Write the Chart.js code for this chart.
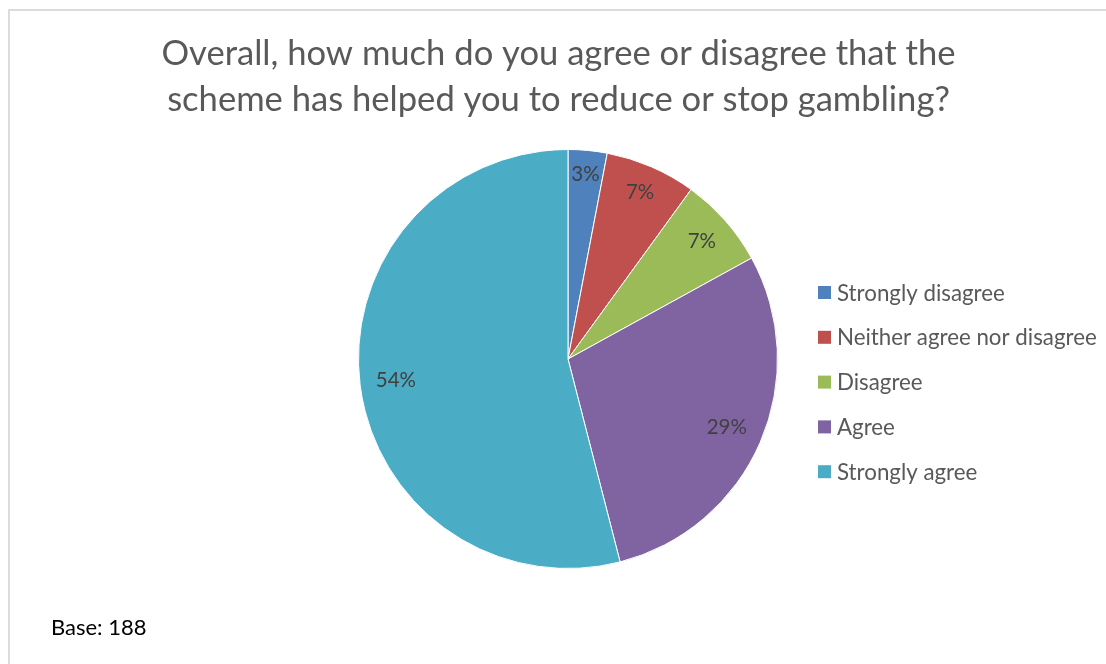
<!DOCTYPE html>
<html>
<head>
<meta charset="utf-8">
<title>Scheme impact on gambling</title>
<script src="https://cdn.jsdelivr.net/npm/chart.js@4/dist/chart.umd.min.js"></script>
<style>
    html, body { margin: 0; padding: 0; background: #fff; overflow: hidden; }
    #frame {
        position: absolute; left: 8px; top: 9px;
        width: 1110px; height: 680px;
        border: 2px solid #dcdcdc; box-sizing: border-box;
    }
    #wrap { position: absolute; left: 0; top: 0; width: 1106px; height: 664px; }
</style>
</head>
<body>
<div id="frame"></div>
<div id="wrap"><canvas id="pie"></canvas></div>
<script>
    'use strict';

    // ── Données ───────────────────────────────────────────────────
    var categories  = ['Strongly disagree', 'Neither agree nor disagree', 'Disagree', 'Agree', 'Strongly agree'];
    var shares      = [3, 7, 7, 29, 54];   // % des répondants
    var sliceColors = ['#4F81BD', '#C0504D', '#9BBB59', '#8064A2', '#4BACC6'];
    var titleLines  = [
        'Overall, how much do you agree or disagree that the',
        'scheme has helped you to reduce or stop gambling?'
    ];
    var baseNote    = 'Base: 188';

    var FONT = 'Lato, "Noto Sans", sans-serif';

    // ── Étiquettes % à l'intérieur des parts ──────────────────────
    // Le libellé glisse le long de l'angle médian jusqu'à ce que son
    // coin le plus éloigné touche un cercle un peu en retrait du bord.
    var sliceLabels = {
        id: 'sliceLabels',
        afterDatasetsDraw: function (chart, args, opts) {
            var ctx  = chart.ctx;
            var arcs = chart.getDatasetMeta(0).data;
            ctx.save();
            ctx.font         = opts.size + 'px ' + FONT;
            ctx.fillStyle    = opts.color;
            ctx.textAlign    = 'center';
            ctx.textBaseline = 'middle';
            arcs.forEach(function (arc, i) {
                var p   = arc.getProps(['x', 'y', 'startAngle', 'endAngle', 'outerRadius'], true);
                var mid = (p.startAngle + p.endAngle) / 2;
                var dx  = Math.cos(mid), dy = Math.sin(mid);
                var txt = shares[i] + '%';
                var hw  = ctx.measureText(txt).width / 2;
                var hh  = opts.size * 0.36;
                var lim = p.outerRadius - opts.inset;
                var t   = lim;
                while (t > 0) {
                    var cx = t * dx + (dx >= 0 ? hw : -hw);
                    var cy = t * dy + (dy >= 0 ? hh : -hh);
                    if (Math.sqrt(cx * cx + cy * cy) <= lim) break;
                    t -= 0.5;
                }
                ctx.fillText(txt, p.x + t * dx, p.y + t * dy);
            });
            ctx.restore();
        }
    };

    // ── Titre, légende et effectif ────────────────────────────────
    var decor = {
        id: 'decor',
        afterDraw: function (chart, args, opts) {
            var ctx = chart.ctx;
            ctx.save();

            // titre sur deux lignes
            ctx.font         = opts.titleSize + 'px ' + FONT;
            ctx.fillStyle    = '#595959';
            ctx.textAlign    = 'center';
            ctx.textBaseline = 'alphabetic';
            titleLines.forEach(function (line, i) {
                ctx.fillText(line, opts.titleX, opts.titleY + i * opts.titleStep);
            });

            // légende verticale à droite du camembert
            ctx.font         = opts.legendSize + 'px ' + FONT;
            ctx.textAlign    = 'left';
            ctx.textBaseline = 'middle';
            chart.data.labels.forEach(function (lab, i) {
                var y = opts.legendY + i * opts.legendStep;
                ctx.fillStyle = chart.data.datasets[0].backgroundColor[i];
                ctx.fillRect(opts.legendX, y, opts.box, opts.box);
                ctx.fillStyle = '#595959';
                ctx.fillText(lab, opts.legendX + opts.box + 6, y + opts.box / 2 + 1);
            });

            // base
            ctx.font         = opts.baseSize + 'px ' + FONT;
            ctx.fillStyle    = '#000';
            ctx.textBaseline = 'alphabetic';
            ctx.fillText(baseNote, opts.baseX, opts.baseY);

            ctx.restore();
        }
    };

    // ── Graphique ─────────────────────────────────────────────────
    new Chart(document.getElementById('pie'), {
        type: 'pie',
        data: {
            labels: categories,
            datasets: [{
                data           : shares,
                backgroundColor: sliceColors,
                borderColor    : '#ffffff',
                borderWidth    : 1,
                offset         : 0,
                hoverOffset    : 0
            }]
        },
        options: {
            responsive         : true,
            maintainAspectRatio: false,
            animation          : false,
            layout: { padding: { left: 358, right: 328, top: 149, bottom: 95 } },
            events: [],
            plugins: {
                legend : { display: false },
                title  : { display: false },
                tooltip: { enabled: false },
                sliceLabels: { size: 20.5, color: '#404040', inset: 15 },
                decor: {
                    titleSize: 34.6, titleX: 558.5, titleY: 65, titleStep: 45.7,
                    legendSize: 22.3, legendX: 818, legendY: 286, legendStep: 44.8, box: 13,
                    baseSize: 22, baseX: 51, baseY: 635
                }
            }
        },
        plugins: [sliceLabels, decor]
    });
</script>
</body>
</html>
